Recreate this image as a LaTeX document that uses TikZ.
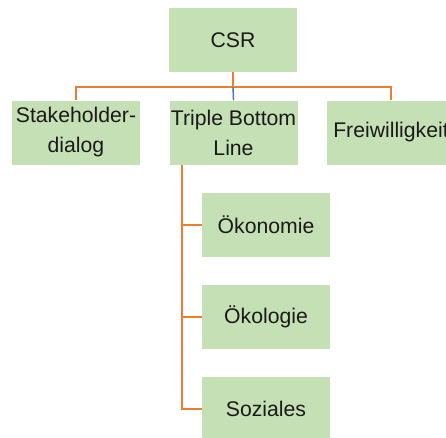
\documentclass[tikz,border=0pt]{standalone}
\usepackage{fontspec}
\setmainfont{Liberation Sans}
\definecolor{boxgreen}{HTML}{C5E0B4}
\definecolor{lineorange}{HTML}{ED7D31}
\definecolor{lineblue}{HTML}{4472C4}
\definecolor{txt}{HTML}{1A1A1A}
\begin{document}
\begin{tikzpicture}[x=1pt,y=-1pt,
  box/.style={fill=boxgreen,draw=none,minimum width=128pt,minimum height=64pt,inner sep=0pt,
    align=center,text=txt,font=\fontsize{21.2}{30}\selectfont},
  conn/.style={draw=lineorange,line width=1.4pt},
  connb/.style={draw=lineblue,line width=1.4pt}]
\useasboundingbox (0,0) rectangle (446,437);
\clip (0,0) rectangle (446,437);
\node[box] (csr) at (233,40) {CSR};
\node[box] (stake) at (76,132.5) {Stakeholder-\\dialog};
\node[box] (tbl) at (233.5,132.5) {Triple Bottom\\Line};
\node[box] (frei) at (391,132.5) {Freiwilligkeit};
\node[box] (oek) at (266,225) {Ökonomie};
\node[box] (oeko) at (266,317) {Ökologie};
\node[box] (soz) at (266,409) {Soziales};
\coordinate (j) at (233,87);
\draw[conn] (csr.south) -- (j);
\draw[conn] (stake.north) -- (stake.north |- j) -- (frei.north |- j) -- (frei.north);
\draw[connb] (j) -- (tbl.north);
\coordinate (t0) at (182,164.5);
\draw[conn] (t0) |- (soz.west);
\draw[conn] (oek.west) -- (oek.west -| t0);
\draw[conn] (oeko.west) -- (oeko.west -| t0);
\end{tikzpicture}
\end{document}
